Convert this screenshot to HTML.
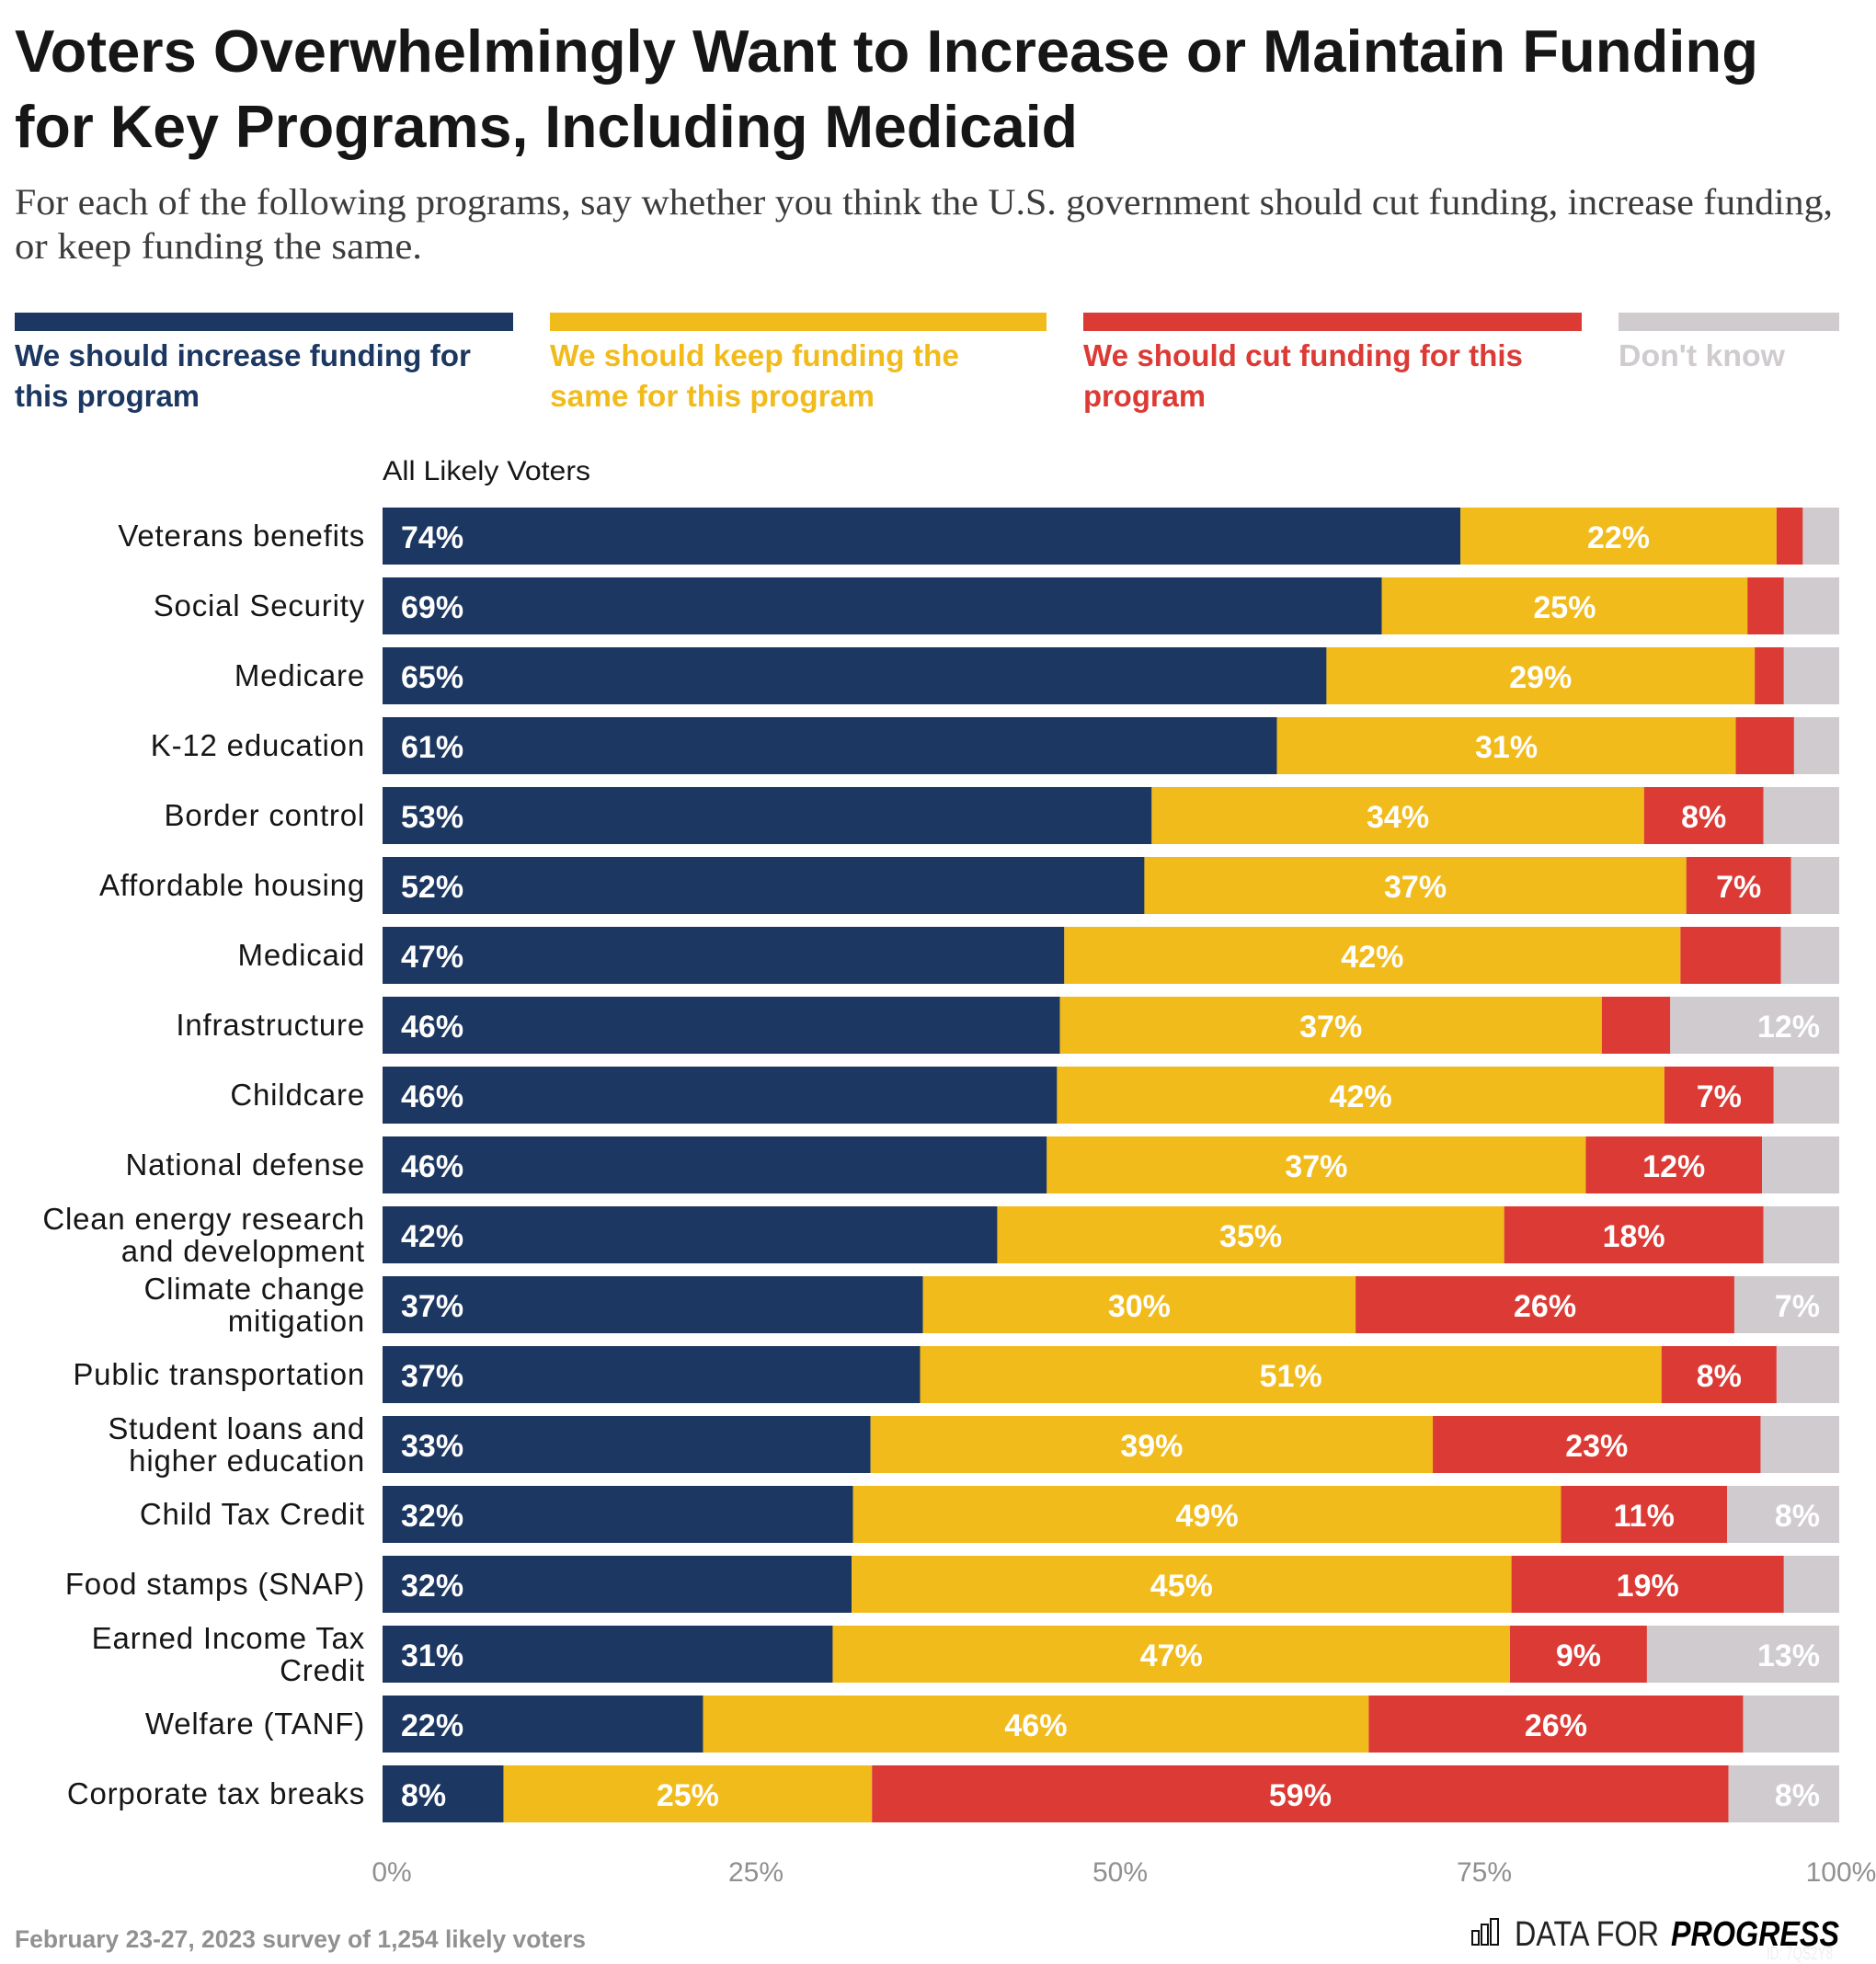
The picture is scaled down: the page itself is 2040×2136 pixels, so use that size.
<!DOCTYPE html>
<html lang="en">
<head>
<meta charset="utf-8">
<title>Voters Overwhelmingly Want to Increase or Maintain Funding</title>
<style>
html,body{margin:0;padding:0;background:#fff;}
svg{display:block;}
text{font-family:"Liberation Sans",Arial,sans-serif;}
.serif{font-family:"Liberation Serif",serif;}
</style>
</head>
<body>
<svg id="chart" xmlns="http://www.w3.org/2000/svg" width="2040" height="2136" viewBox="0 0 2040 2136">
  <rect x="0" y="0" width="2040" height="2136" fill="#ffffff"/>
  <g fill="#161616" font-size="65" font-weight="700">
    <text x="16" y="78" textLength="1896" lengthAdjust="spacingAndGlyphs">Voters Overwhelmingly Want to Increase or Maintain Funding</text>
    <text x="16" y="160" textLength="1156" lengthAdjust="spacingAndGlyphs">for Key Programs, Including Medicaid</text>
  </g>
  <g fill="#3c3c3c" font-size="40">
    <text class="serif" x="16" y="233" textLength="1977" lengthAdjust="spacingAndGlyphs">For each of the following programs, say whether you think the U.S. government should cut funding, increase funding,</text>
    <text class="serif" x="16" y="281" textLength="443" lengthAdjust="spacingAndGlyphs">or keep funding the same.</text>
  </g>
  <g font-size="33" font-weight="700">
    <g fill="#1c3761">
      <rect x="16" y="340" width="542" height="20"/>
      <text x="16" y="398" textLength="496" lengthAdjust="spacingAndGlyphs">We should increase funding for</text>
      <text x="16" y="442" textLength="201" lengthAdjust="spacingAndGlyphs">this program</text>
    </g>
    <g fill="#f2bb1c">
      <rect x="598" y="340" width="540" height="20"/>
      <text x="598" y="398" textLength="445" lengthAdjust="spacingAndGlyphs">We should keep funding the</text>
      <text x="598" y="442" textLength="353" lengthAdjust="spacingAndGlyphs">same for this program</text>
    </g>
    <g fill="#dc3a35">
      <rect x="1178" y="340" width="542" height="20"/>
      <text x="1178" y="398" textLength="478" lengthAdjust="spacingAndGlyphs">We should cut funding for this</text>
      <text x="1178" y="442" textLength="133" lengthAdjust="spacingAndGlyphs">program</text>
    </g>
    <g fill="#cfcbcf">
      <rect x="1760" y="340" width="240" height="20"/>
      <text x="1760" y="398" textLength="181" lengthAdjust="spacingAndGlyphs">Don't know</text>
    </g>
  </g>
  <text x="416" y="522" font-size="30" fill="#161616" textLength="226" lengthAdjust="spacingAndGlyphs">All Likely Voters</text>
  <g id="rows"></g>
  <g id="axis"></g>
  <text x="16" y="2118" font-size="27" font-weight="700" fill="#919191" textLength="621" lengthAdjust="spacingAndGlyphs">February 23-27, 2023 survey of 1,254 likely voters</text>
  <g>
    <g fill="none" stroke="#111" stroke-width="2">
      <rect x="1601" y="2100" width="7" height="15"/>
      <rect x="1611" y="2093" width="7" height="22"/>
      <rect x="1621" y="2087" width="8" height="28"/>
    </g>
    <text x="1647" y="2116" font-size="38" fill="#222" textLength="157" lengthAdjust="spacingAndGlyphs">DATA FOR</text>
    <text x="1817" y="2116" font-size="38" font-weight="700" font-style="italic" fill="#000" textLength="183" lengthAdjust="spacingAndGlyphs">PROGRESS</text>
  </g>
  <text x="1921" y="2131" font-size="20" fill="#eeeeee" textLength="72" lengthAdjust="spacingAndGlyphs">ID: 7QS2Y8</text>
</svg>
<script>
const categories = ["Veterans benefits","Social Security","Medicare","K-12 education","Border control","Affordable housing","Medicaid","Infrastructure","Childcare","National defense","Clean energy research|and development","Climate change|mitigation","Public transportation","Student loans and|higher education","Child Tax Credit","Food stamps (SNAP)","Earned Income Tax|Credit","Welfare (TANF)","Corporate tax breaks"];
const increaseValues = [74.0,68.6,64.8,61.4,52.8,52.3,46.8,46.5,46.3,45.6,42.2,37.1,36.9,33.5,32.3,32.2,30.9,22.0,8.3];
const keepValues = [21.7,25.1,29.4,31.5,33.8,37.2,42.3,37.2,41.7,37.0,34.8,29.7,50.9,38.6,48.6,45.3,46.5,45.7,25.3];
const cutValues = [1.8,2.5,2.0,4.0,8.2,7.2,6.9,4.7,7.5,12.1,17.8,26.0,7.9,22.5,11.4,18.7,9.4,25.7,58.8];
const dontKnowValues = [2.5,3.8,3.8,3.1,5.2,3.3,4.0,11.6,4.5,5.3,5.2,7.2,4.3,5.4,7.7,3.8,13.2,6.6,7.6];
const increaseLabels = ["74%","69%","65%","61%","53%","52%","47%","46%","46%","46%","42%","37%","37%","33%","32%","32%","31%","22%","8%"];
const keepLabels = ["22%","25%","29%","31%","34%","37%","42%","37%","42%","37%","35%","30%","51%","39%","49%","45%","47%","46%","25%"];
const cutLabels = ["","","","","8%","7%","","","7%","12%","18%","26%","8%","23%","11%","19%","9%","26%","59%"];
const dontKnowLabels = ["","","","","","","","12%","","","","7%","","","8%","","13%","","8%"];
const tickValues = [0,25,50,75,100];
const tickLabels = ["0%","25%","50%","75%","100%"];

const NS = "http://www.w3.org/2000/svg";
const plotLeft = 416, plotRight = 2000, plotTop = 552, rowStep = 76, barHeight = 62;
function xScale(v){ return plotLeft + (plotRight - plotLeft) * v / 100; }
function yScale(i){ return plotTop + rowStep * i; }
function make(tag, parent){
  const el = document.createElementNS(NS, tag);
  parent.appendChild(el);
  return el;
}
const rowsG = document.getElementById("rows");
const seriesDefs = [
  {key:"increase", values:increaseValues, labels:increaseLabels, color:"#1c3761"},
  {key:"keep", values:keepValues, labels:keepLabels, color:"#f2bb1c"},
  {key:"cut", values:cutValues, labels:cutLabels, color:"#dc3a35"},
  {key:"dont-know", values:dontKnowValues, labels:dontKnowLabels, color:"#cfcbcf"}
];
categories.forEach(function(cat, i){
  const slug = cat.replace(/\|/g," ").toLowerCase().replace(/[^a-z0-9]+/g,"-").replace(/-$/,"");
  const row = make("g", rowsG);
  
  
  const top = yScale(i), cy = top + barHeight / 2;
  const lines = cat.split("|");
  lines.forEach(function(line, k){
    const t = make("text", row);
    
    
    t.setAttribute("x", 397);
    t.setAttribute("y", lines.length === 1 ? cy + 11 : cy - 6 + k * 35);
    t.setAttribute("text-anchor", "end");
    t.setAttribute("font-size", "33");
    t.setAttribute("letter-spacing", "0.8");
    t.setAttribute("fill", "#161616");
    t.textContent = line;
  });
  let cum = 0;
  seriesDefs.forEach(function(s){
    const v = s.values[i];
    const x0 = xScale(cum), x1 = xScale(cum + v);
    const r = make("rect", row);
    
    
    r.setAttribute("x", x0);
    r.setAttribute("y", top);
    r.setAttribute("width", x1 - x0);
    r.setAttribute("height", barHeight);
    r.setAttribute("fill", s.color);
    cum += v;
  });
  cum = 0;
  seriesDefs.forEach(function(s){
    const v = s.values[i];
    const x0 = xScale(cum), x1 = xScale(cum + v);
    const label = s.labels[i];
    if (label) {
      const t = make("text", row);
      
      
      if (s.key === "increase") { t.setAttribute("x", x0 + 20); t.setAttribute("text-anchor", "start"); }
      else if (s.key === "dont-know") { t.setAttribute("x", x1 - 21); t.setAttribute("text-anchor", "end"); }
      else { t.setAttribute("x", (x0 + x1) / 2); t.setAttribute("text-anchor", "middle"); }
      t.setAttribute("y", cy + 13);
      t.setAttribute("font-size", "34");
      t.setAttribute("font-weight", "700");
      t.setAttribute("fill", "#ffffff");
      t.textContent = label;
    }
    cum += v;
  });
});
const axisG = document.getElementById("axis");
tickValues.forEach(function(v, i){
  const t = make("text", axisG);
  
  
  t.setAttribute("x", xScale(v) + (v === 100 ? 2 : 10));
  t.setAttribute("y", 2046);
  t.setAttribute("text-anchor", "middle");
  t.setAttribute("font-size", "30");
  t.setAttribute("fill", "#909090");
  t.textContent = tickLabels[i];
});
</script>
</body>
</html>
